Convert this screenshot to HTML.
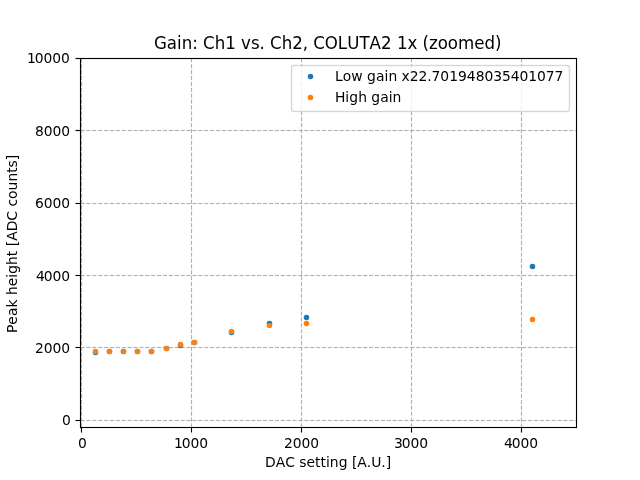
<!DOCTYPE html>
<html lang="en">
<head>
<meta charset="utf-8">
<title>Gain: Ch1 vs. Ch2, COLUTA2 1x (zoomed)</title>
<style>
html,body{margin:0;padding:0;background:#fff;}
body{width:640px;height:480px;overflow:hidden;}
svg{display:block;position:absolute;left:0;top:0;}
text{font-family:"DejaVu Sans","Liberation Sans",sans-serif;fill:#000;font-kerning:none;}
.t10{font-size:13.889px;}
.t12{font-size:17px;}
.grid line{stroke:#b0b0b0;stroke-width:1.1111;stroke-dasharray:4.1111 1.7778;stroke-linecap:butt;}
.halo line{stroke-width:3;stroke-opacity:0.062;}
.b circle{fill:#1f77b4;stroke:#1f77b4;stroke-width:1.3889;}
.o circle{fill:#ff7f0e;stroke:#ff7f0e;stroke-width:1.3889;}
</style>
</head>
<body>
<svg width="640" height="480" viewBox="0 0 640 480">
<rect x="0" y="0" width="640" height="480" fill="#ffffff"/>

<defs><clipPath id="axclip"><rect x="80" y="58" width="496" height="369"/></clipPath></defs>
<g clip-path="url(#axclip)">
<g id="vg" fill="#b0b0b0">
<rect x="80.9375" y="423.389" width="1.125" height="4.111"/>
<rect x="80.9375" y="417.500" width="1.125" height="4.111"/>
<rect x="80.9375" y="411.611" width="1.125" height="4.111"/>
<rect x="80.9375" y="405.722" width="1.125" height="4.111"/>
<rect x="80.9375" y="399.833" width="1.125" height="4.111"/>
<rect x="80.9375" y="393.944" width="1.125" height="4.111"/>
<rect x="80.9375" y="388.056" width="1.125" height="4.111"/>
<rect x="80.9375" y="382.167" width="1.125" height="4.111"/>
<rect x="80.9375" y="376.278" width="1.125" height="4.111"/>
<rect x="80.9375" y="370.389" width="1.125" height="4.111"/>
<rect x="80.9375" y="364.500" width="1.125" height="4.111"/>
<rect x="80.9375" y="358.611" width="1.125" height="4.111"/>
<rect x="80.9375" y="352.722" width="1.125" height="4.111"/>
<rect x="80.9375" y="346.833" width="1.125" height="4.111"/>
<rect x="80.9375" y="340.944" width="1.125" height="4.111"/>
<rect x="80.9375" y="335.056" width="1.125" height="4.111"/>
<rect x="80.9375" y="329.167" width="1.125" height="4.111"/>
<rect x="80.9375" y="323.278" width="1.125" height="4.111"/>
<rect x="80.9375" y="317.389" width="1.125" height="4.111"/>
<rect x="80.9375" y="311.500" width="1.125" height="4.111"/>
<rect x="80.9375" y="305.611" width="1.125" height="4.111"/>
<rect x="80.9375" y="299.722" width="1.125" height="4.111"/>
<rect x="80.9375" y="293.833" width="1.125" height="4.111"/>
<rect x="80.9375" y="287.944" width="1.125" height="4.111"/>
<rect x="80.9375" y="282.056" width="1.125" height="4.111"/>
<rect x="80.9375" y="276.167" width="1.125" height="4.111"/>
<rect x="80.9375" y="270.278" width="1.125" height="4.111"/>
<rect x="80.9375" y="264.389" width="1.125" height="4.111"/>
<rect x="80.9375" y="258.500" width="1.125" height="4.111"/>
<rect x="80.9375" y="252.611" width="1.125" height="4.111"/>
<rect x="80.9375" y="246.722" width="1.125" height="4.111"/>
<rect x="80.9375" y="240.833" width="1.125" height="4.111"/>
<rect x="80.9375" y="234.944" width="1.125" height="4.111"/>
<rect x="80.9375" y="229.056" width="1.125" height="4.111"/>
<rect x="80.9375" y="223.167" width="1.125" height="4.111"/>
<rect x="80.9375" y="217.278" width="1.125" height="4.111"/>
<rect x="80.9375" y="211.389" width="1.125" height="4.111"/>
<rect x="80.9375" y="205.500" width="1.125" height="4.111"/>
<rect x="80.9375" y="199.611" width="1.125" height="4.111"/>
<rect x="80.9375" y="193.722" width="1.125" height="4.111"/>
<rect x="80.9375" y="187.833" width="1.125" height="4.111"/>
<rect x="80.9375" y="181.944" width="1.125" height="4.111"/>
<rect x="80.9375" y="176.056" width="1.125" height="4.111"/>
<rect x="80.9375" y="170.167" width="1.125" height="4.111"/>
<rect x="80.9375" y="164.278" width="1.125" height="4.111"/>
<rect x="80.9375" y="158.389" width="1.125" height="4.111"/>
<rect x="80.9375" y="152.500" width="1.125" height="4.111"/>
<rect x="80.9375" y="146.611" width="1.125" height="4.111"/>
<rect x="80.9375" y="140.722" width="1.125" height="4.111"/>
<rect x="80.9375" y="134.833" width="1.125" height="4.111"/>
<rect x="80.9375" y="128.944" width="1.125" height="4.111"/>
<rect x="80.9375" y="123.056" width="1.125" height="4.111"/>
<rect x="80.9375" y="117.167" width="1.125" height="4.111"/>
<rect x="80.9375" y="111.278" width="1.125" height="4.111"/>
<rect x="80.9375" y="105.389" width="1.125" height="4.111"/>
<rect x="80.9375" y="99.500" width="1.125" height="4.111"/>
<rect x="80.9375" y="93.611" width="1.125" height="4.111"/>
<rect x="80.9375" y="87.722" width="1.125" height="4.111"/>
<rect x="80.9375" y="81.833" width="1.125" height="4.111"/>
<rect x="80.9375" y="75.944" width="1.125" height="4.111"/>
<rect x="80.9375" y="70.056" width="1.125" height="4.111"/>
<rect x="80.9375" y="64.167" width="1.125" height="4.111"/>
<rect x="80.9375" y="58.500" width="1.125" height="3.889"/>
</g>
<use href="#vg" x="110"/>
<use href="#vg" x="220"/>
<use href="#vg" x="330"/>
<use href="#vg" x="440"/>
<g class="grid">
<line x1="80.5" y1="420.5" x2="576.5" y2="420.5"/>
<line x1="80.5" y1="347.5" x2="576.5" y2="347.5"/>
<line x1="80.5" y1="275.5" x2="576.5" y2="275.5"/>
<line x1="80.5" y1="203.5" x2="576.5" y2="203.5"/>
<line x1="80.5" y1="130.5" x2="576.5" y2="130.5"/>
<line x1="80.5" y1="58.5" x2="576.5" y2="58.5"/>
</g>
<g class="grid halo">
<line x1="80.5" y1="420.5" x2="576.5" y2="420.5"/>
<line x1="80.5" y1="347.5" x2="576.5" y2="347.5"/>
<line x1="80.5" y1="275.5" x2="576.5" y2="275.5"/>
<line x1="80.5" y1="203.5" x2="576.5" y2="203.5"/>
<line x1="80.5" y1="130.5" x2="576.5" y2="130.5"/>
<line x1="80.5" y1="58.5" x2="576.5" y2="58.5"/>
</g>
</g>
<g fill="#000">
<rect x="80.9444" y="427.5" width="1.1111" height="5"/>
<rect x="190.9444" y="427.5" width="1.1111" height="5"/>
<rect x="300.9444" y="427.5" width="1.1111" height="5"/>
<rect x="410.9444" y="427.5" width="1.1111" height="5"/>
<rect x="520.9444" y="427.5" width="1.1111" height="5"/>
<rect x="75.5" y="419.9444" width="5" height="1.1111"/>
<rect x="75.5" y="346.9444" width="5" height="1.1111"/>
<rect x="75.5" y="274.9444" width="5" height="1.1111"/>
<rect x="75.5" y="202.9444" width="5" height="1.1111"/>
<rect x="75.5" y="129.9444" width="5" height="1.1111"/>
<rect x="75.5" y="57.9444" width="5" height="1.1111"/>
</g>
<g class="b">
<circle cx="95.5" cy="352.5" r="2.0833"/>
<circle cx="109.5" cy="351.5" r="2.0833"/>
<circle cx="123.5" cy="351.5" r="2.0833"/>
<circle cx="137.5" cy="351.5" r="2.0833"/>
<circle cx="151.5" cy="351.5" r="2.0833"/>
<circle cx="166.5" cy="348.5" r="2.0833"/>
<circle cx="180.5" cy="345.5" r="2.0833"/>
<circle cx="194.5" cy="342.5" r="2.0833"/>
<circle cx="231.5" cy="332.5" r="2.0833"/>
<circle cx="269.5" cy="323.5" r="2.0833"/>
<circle cx="306.5" cy="317.5" r="2.0833"/>
<circle cx="532.5" cy="266.5" r="2.0833"/>
</g>
<g class="o">
<circle cx="95.5" cy="351.5" r="2.0833"/>
<circle cx="109.5" cy="351.5" r="2.0833"/>
<circle cx="123.5" cy="351.5" r="2.0833"/>
<circle cx="137.5" cy="351.5" r="2.0833"/>
<circle cx="151.5" cy="351.5" r="2.0833"/>
<circle cx="166.5" cy="348.5" r="2.0833"/>
<circle cx="180.5" cy="344.5" r="2.0833"/>
<circle cx="194.5" cy="342.5" r="2.0833"/>
<circle cx="231.5" cy="331.5" r="2.0833"/>
<circle cx="269.5" cy="325.5" r="2.0833"/>
<circle cx="306.5" cy="323.5" r="2.0833"/>
<circle cx="532.5" cy="319.5" r="2.0833"/>
</g>
<g fill="#000">
<rect x="79.9444" y="57.9444" width="1.1111" height="370.1111"/>
<rect x="575.9444" y="57.9444" width="1.1111" height="370.1111"/>
<rect x="79.9444" y="426.9444" width="497.1111" height="1.1111"/>
<rect x="79.9444" y="57.9444" width="497.1111" height="1.1111"/>
</g>
<text class="t10" x="78" y="448.000">0</text>
<text class="t10" x="174 181.75 190.5 199.25" y="448.000">1000</text>
<text class="t10" x="284 292.75 301.5 310.25" y="448.000">2000</text>
<text class="t10" x="394 401.75 410.5 419.25" y="448.000">3000</text>
<text class="t10" x="504 511.75 520.5 529.25" y="448.000">4000</text>
<text class="t10" x="62" y="425.000">0</text>
<text class="t10" x="35 43.75 52.5 61.25" y="353.000">2000</text>
<text class="t10" x="36 43.75 52.5 61.25" y="281.000">4000</text>
<text class="t10" x="35 43.75 52.5 61.25" y="208.000">6000</text>
<text class="t10" x="35 43.75 52.5 61.25" y="136.000">8000</text>
<text class="t10" x="27 34.75 43.5 52.25 61" y="63.000">10000</text>
<text class="t10" x="265 275.75 285.25 295 299.25 306.5 315 320.5 326 329.75 338.75 347.5 352 357.25 366.75 371.25 381.25 385.75" y="467.000">DAC setting [A.U.]</text>
<text class="t10" transform="translate(16.970 243.750) rotate(-90)" x="-89.25 -81 -72.25 -63.75 -55.75 -51.25 -42.5 -34 -30 -21.25 -12.5 -7 -2.5 3 12.5 23 32.75 37.25 44.75 53.25 62.25 71 76.25 83.5" y="0">Peak height [ADC counts]</text>
<text class="t12" transform="scale(0.98039 1)" x="157.08 170.085 180.54 185.385 196.095 201.705 207.06 219.045 229.756 240.466 245.821 256.021 264.691 270.046 275.401 287.386 298.096 308.806 314.161 319.516 331.246 344.506 354.196 366.691 376.891 388.621 399.331 404.941 415.651 425.596 430.951 437.581 446.506 456.706 467.161 483.736 494.191 504.901" y="49.000">Gain: Ch1 vs. Ch2, COLUTA2 1x (zoomed)</text>
<g opacity="0.8">
<path d="M293.5 111.5L566.5 111.5Q569.5 111.5 569.5 108.5L569.5 67.5Q569.5 65.5 566.5 65.5L293.5 65.5Q291.5 65.5 291.5 67.5L291.5 108.5Q291.5 111.5 293.5 111.5Z" fill="#ffffff"/>
<g fill="none" stroke="#cccccc" stroke-width="1.3889" stroke-linecap="butt">
<path d="M294 65.5L293.5 65.5Q291.5 65.5 291.5 67.5L291.5 68"/>
<path d="M566 65.5L566.5 65.5Q569.5 65.5 569.5 67.5L569.5 68"/>
<path d="M294 111.5L293.5 111.5Q291.5 111.5 291.5 108.5L291.5 108"/>
<path d="M566 111.5L566.5 111.5Q569.5 111.5 569.5 108.5L569.5 108"/>
</g>
<g fill="#cccccc">
<rect x="294" y="64.8200" width="272" height="1.36"/>
<rect x="294" y="110.8200" width="272" height="1.36"/>
<rect x="290.8200" y="68" width="1.36" height="40"/>
<rect x="568.8200" y="68" width="1.36" height="40"/>
</g>
</g>
<g class="b"><circle cx="310.5" cy="76.5" r="2.0833"/></g>
<g class="o"><circle cx="310.5" cy="97.5" r="2.0833"/></g>
<text class="t10" x="335 342.75 351.25 362.5 367 376 384.5 388.5 397 401.5 409.75 418.5 427.25 431.5 440.25 449.25 458 466.75 475.75 484.5 493.25 502 510.75 519.5 528.25 537 545.75 554.5" y="81.000">Low gain x22.701948035401077</text>
<text class="t10" x="335 345.25 349.25 358.25 367 371.25 380.25 388.75 392.5" y="102.000">High gain</text>
</svg>
</body>
</html>
